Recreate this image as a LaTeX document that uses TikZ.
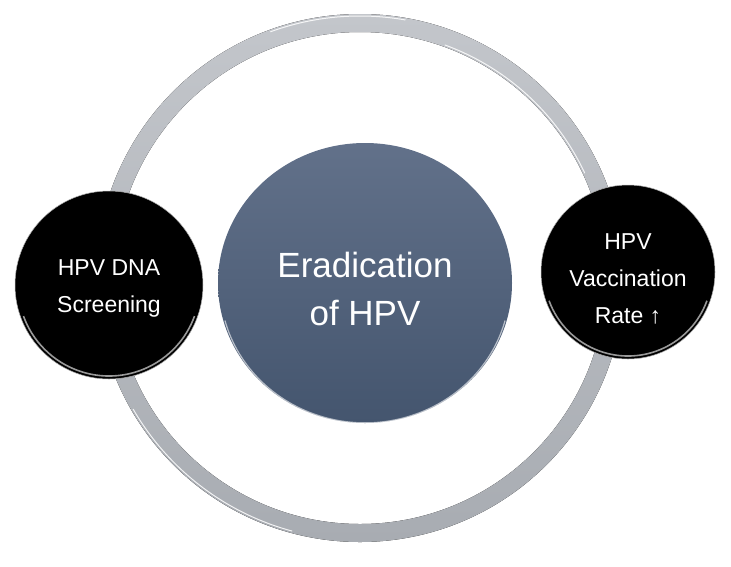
\documentclass[tikz,border=0pt]{standalone}
\usepackage{fontspec}
\setmainfont{Liberation Sans}
\begin{document}
\begin{tikzpicture}[x=1pt,y=-1pt,
  ringfill/.style={even odd rule,top color=ringtop,bottom color=ringbot,draw=none},
  hub/.style={circle,minimum size=284pt,inner sep=0pt,align=center,text=white,
    font=\fontsize{35}{48}\selectfont},
  satellite/.style={circle,inner sep=0pt,align=center,text=white,
    font=\fontsize{23}{37}\selectfont},
  rim/.style={line width=1.6pt,draw=white,opacity=0.6},
  glint/.style={white,line width=1pt,opacity=0.85}]
\definecolor{ringtop}{HTML}{C3C6CB}
\definecolor{ringbot}{HTML}{A8ACB2}
\definecolor{hubtop}{HTML}{62718A}
\definecolor{hubbot}{HTML}{44556E}
\useasboundingbox (0,0) rectangle (731,566);
\fill[white] (0,0) rectangle (731,566);
% ring
\fill[ringfill] (360,278) circle[radius=264] (360,278) circle[radius=246];
\draw[glint] (360,278) ++(290:248) arc[start angle=290,end angle=335,radius=248];
\draw[glint] (360,278) ++(105:262) arc[start angle=105,end angle=150,radius=262];
\draw[glint] (360,278) ++(250:262) arc[start angle=250,end angle=280,radius=262];
% central hub
\shade[top color=hubtop,bottom color=hubbot] (365,283) ellipse[x radius=147,y radius=140];
\draw[white,line width=1.2pt,opacity=0.6] (365,283) ++(15:145) arc[start angle=15,end angle=165,x radius=145,y radius=138];
\node[hub] (hub) at (365,289) {Eradication\\of HPV};
% left satellite
\fill[black] (109,285) circle[radius=94];
\draw[rim] (109,285) ++(20:91) arc[start angle=20,end angle=160,radius=91];
\draw[gray!60,line width=0.5pt] (109,285) circle[radius=94];
\node[satellite] (dna) at (109,288) {HPV DNA\\Screening};
% right satellite
\fill[black] (628,272) circle[radius=87];
\draw[rim] (628,272) ++(20:84) arc[start angle=20,end angle=160,radius=84];
\draw[gray!60,line width=0.5pt] (628,272) circle[radius=87];
\node[satellite] (vacc) at (628,279) {HPV\\Vaccination\\Rate ↑};
\end{tikzpicture}
\end{document}
